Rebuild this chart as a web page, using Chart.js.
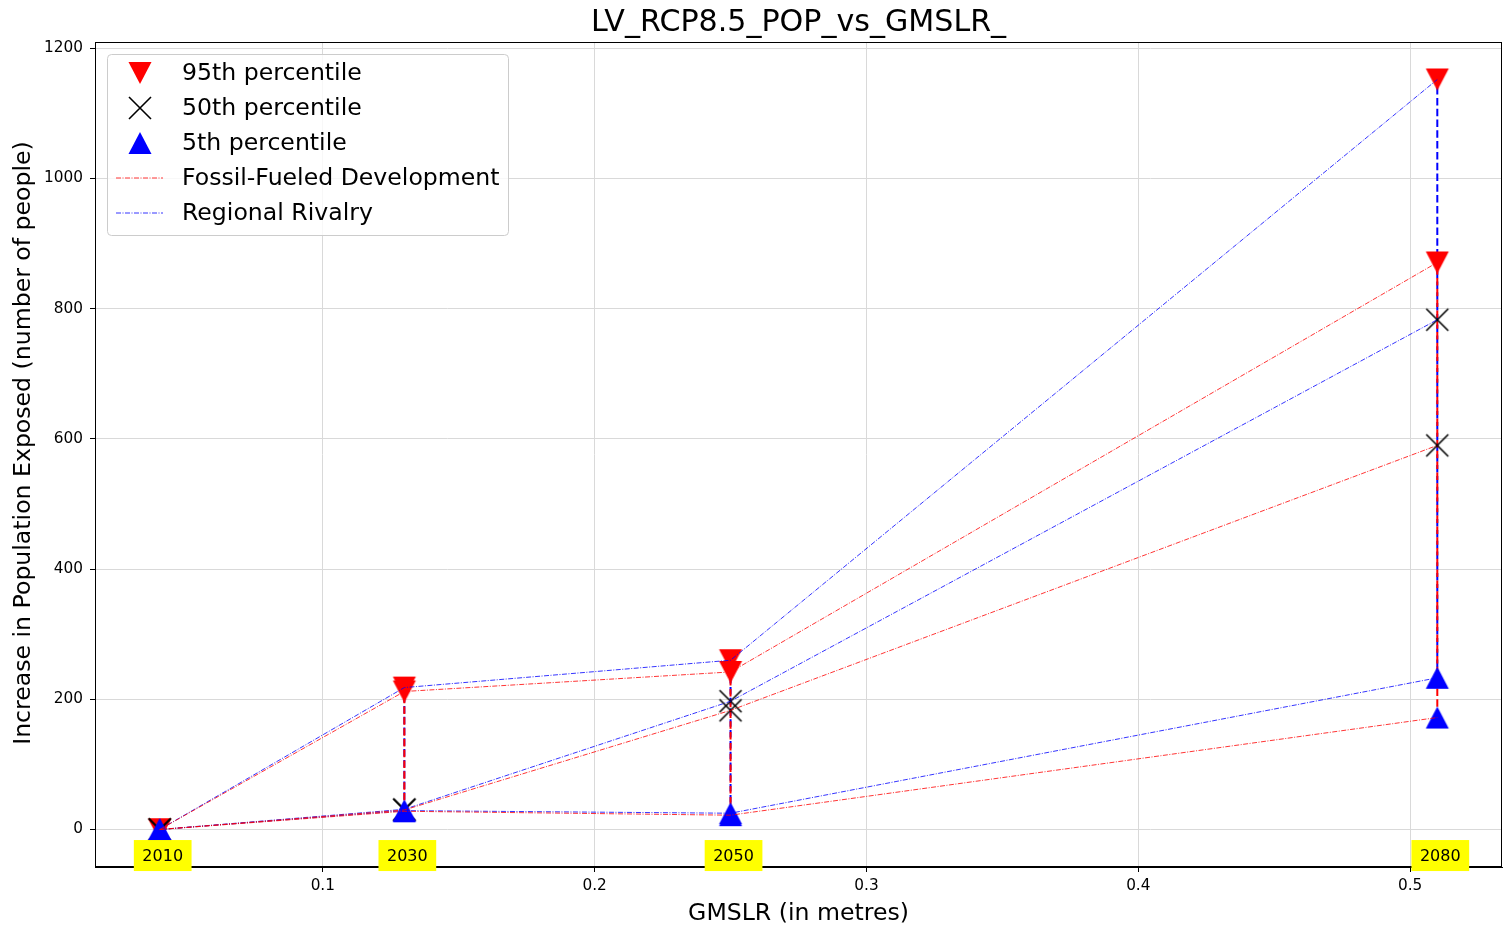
<!DOCTYPE html>
<html>
<head>
<meta charset="utf-8">
<title>LV_RCP8.5_POP_vs_GMSLR_</title>
<script src="https://cdn.jsdelivr.net/npm/chart.js@4.4.1/dist/chart.umd.min.js"></script>
<style>
  html, body { margin: 0; padding: 0; background: #fff; }
  canvas { display: block; }
</style>
</head>
<body>
<canvas id="chart" width="1510" height="929"></canvas>
<script>
// GMSLR (m) reached in each year
const years = ['2010', '2030', '2050', '2080'];
const gmslr = [0.04, 0.13, 0.25, 0.51];

// Fossil-Fueled Development
const ffd95 = [0, 212, 242, 871];
const ffd50 = [0, 30, 183, 590];
const ffd5 = [0, 28, 22, 172];

// Regional Rivalry
const rr95 = [0, 218, 260, 1152];
const rr50 = [0, 31, 197, 783];
const rr5 = [0, 29, 25, 233];

const xTicks = [0.1, 0.2, 0.3, 0.4, 0.5];
const yTicks = [0, 200, 400, 600, 800, 1000, 1200];
const yearLabelY = -40;

const FONT = '"DejaVu Sans", "Liberation Sans", sans-serif';

// marker images, matplotlib style (centred on their bounding box)
function makeMarker(kind, color) {
  const c = document.createElement('canvas');
  c.width = 26; c.height = 26;
  const g = c.getContext('2d');
  if (kind === 'x') {
    g.strokeStyle = color;
    g.lineWidth = 1.6;
    g.beginPath();
    g.moveTo(2, 2); g.lineTo(24, 24);
    g.moveTo(24, 2); g.lineTo(2, 24);
    g.stroke();
  } else {
    g.fillStyle = color;
    g.beginPath();
    if (kind === 'up') {
      g.moveTo(13, 2); g.lineTo(24.5, 24); g.lineTo(1.5, 24);
    } else {
      g.moveTo(13, 24); g.lineTo(24.5, 2); g.lineTo(1.5, 2);
    }
    g.closePath();
    g.fill();
  }
  return c;
}

const downRed = makeMarker('down', '#ff0000');
const xBlack = makeMarker('x', '#000000');
const upBlue = makeMarker('up', '#0000ff');

const pts = vals => gmslr.map((x, i) => ({ x: x, y: vals[i] }));

function trend(vals, color) {
  return {
    data: pts(vals), borderColor: color, borderWidth: 0.8,
    borderDash: [5, 1.5, 1, 1.5], pointRadius: 0, fill: false, tension: 0
  };
}

function marks(vals, img) {
  return { data: pts(vals), showLine: false, pointStyle: img, pointRadius: 12, borderWidth: 0 };
}

// vertical 5th -> 95th range lines, split by gaps
function spans(lo, hi, color) {
  const data = [];
  gmslr.forEach((x, i) => {
    data.push({ x: x, y: lo[i] }, { x: x, y: hi[i] }, { x: x, y: null });
  });
  return {
    data: data, borderColor: color, borderWidth: 2, borderDash: [7.5, 3.3],
    pointRadius: 0, spanGaps: false, fill: false
  };
}

// first dataset is drawn on top
const datasets = [
  trend(ffd95, '#ff0000'), trend(ffd50, '#ff0000'), trend(ffd5, '#ff0000'),
  trend(rr95, '#0000ff'), trend(rr50, '#0000ff'), trend(rr5, '#0000ff'),
  marks(ffd5, upBlue), marks(rr5, upBlue),
  marks(ffd50, xBlack), marks(rr50, xBlack),
  marks(ffd95, downRed), marks(rr95, downRed),
  spans(ffd5, ffd95, '#ff0000'),
  spans(rr5, rr95, '#0000ff')
];

const legendItems = [
  { label: '95th percentile', marker: downRed },
  { label: '50th percentile', marker: xBlack },
  { label: '5th percentile', marker: upBlue },
  { label: 'Fossil-Fueled Development', line: '#ff0000' },
  { label: 'Regional Rivalry', line: '#0000ff' }
];

const decorations = {
  id: 'decorations',
  afterDraw(chart) {
    const ctx = chart.ctx;
    const a = chart.chartArea;
    const xs = chart.scales.x, ys = chart.scales.y;
    ctx.save();

    // frame
    ctx.strokeStyle = '#000';
    ctx.lineWidth = 1;
    ctx.strokeRect(a.left + 0.5, a.top + 0.5, a.right - a.left - 1, a.bottom - a.top - 1);

    // title and axis titles
    ctx.fillStyle = '#000';
    ctx.textAlign = 'center';
    ctx.textBaseline = 'alphabetic';
    ctx.font = '30.1px ' + FONT;
    ctx.fillText('LV_RCP8.5_POP_vs_GMSLR_', (a.left + a.right) / 2, 31);
    ctx.font = '23.6px ' + FONT;
    ctx.fillText('GMSLR (in metres)', (a.left + a.right) / 2, 920);
    ctx.save();
    ctx.translate(30, 443);
    ctx.rotate(-Math.PI / 2);
    ctx.fillText('Increase in Population Exposed (number of people)', 0, 0);
    ctx.restore();

    // year labels
    ctx.font = '16px ' + FONT;
    ctx.textBaseline = 'middle';
    years.forEach((yr, i) => {
      const cx = xs.getPixelForValue(gmslr[i]) + 3;
      const cy = ys.getPixelForValue(yearLabelY);
      const w = ctx.measureText(yr).width + 17;
      ctx.fillStyle = '#ffff00';
      ctx.fillRect(cx - w / 2, cy - 15.5, w, 31);
      ctx.fillStyle = '#000';
      ctx.fillText(yr, cx, cy + 1);
    });

    // legend
    ctx.beginPath();
    ctx.roundRect(107.5, 54.5, 401, 181, 4);
    ctx.fillStyle = 'rgba(255,255,255,0.8)';
    ctx.fill();
    ctx.strokeStyle = '#cccccc';
    ctx.stroke();
    ctx.font = '23.6px ' + FONT;
    ctx.textAlign = 'left';
    legendItems.forEach((item, i) => {
      const y = 73 + i * 35;
      if (item.marker) {
        ctx.drawImage(item.marker, 140 - 13, y - 13);
      } else {
        ctx.strokeStyle = item.line;
        ctx.lineWidth = 0.8;
        ctx.setLineDash([5, 1.5, 1, 1.5]);
        ctx.beginPath();
        ctx.moveTo(116, y);
        ctx.lineTo(163, y);
        ctx.stroke();
        ctx.setLineDash([]);
      }
      ctx.fillStyle = '#000';
      ctx.fillText(item.label, 182, y + 1);
    });
    ctx.restore();
  }
};

const tickFont = { family: FONT, size: 15.3 };

new Chart(document.getElementById('chart').getContext('2d'), {
  type: 'line',
  data: { datasets: datasets },
  options: {
    responsive: false,
    animation: false,
    events: [],
    layout: { autoPadding: false, padding: { top: 42, right: 8, left: 0, bottom: 0 } },
    plugins: { legend: { display: false }, tooltip: { enabled: false } },
    scales: {
      x: {
        type: 'linear',
        min: 0.0162,
        max: 0.5338,
        afterBuildTicks: s => { s.ticks = xTicks.map(v => ({ value: v })); },
        afterFit: s => { s.height = 62; },
        border: { display: true, color: '#000', width: 1 },
        grid: { color: '#d9d9d9', lineWidth: 1, tickColor: '#000', tickLength: 5, drawTicks: true },
        ticks: { color: '#000', font: tickFont, padding: 5, maxRotation: 0, callback: v => v.toFixed(1) }
      },
      y: {
        type: 'linear',
        min: -57.6,
        max: 1209.6,
        afterBuildTicks: s => { s.ticks = yTicks.map(v => ({ value: v })); },
        afterFit: s => { s.width = 95; },
        border: { display: true, color: '#000', width: 1 },
        grid: { color: '#d9d9d9', lineWidth: 1, tickColor: '#000', tickLength: 5, drawTicks: true },
        ticks: { color: '#000', font: tickFont, padding: 7, callback: v => String(v) }
      }
    }
  },
  plugins: [decorations]
});
</script>
</body>
</html>
